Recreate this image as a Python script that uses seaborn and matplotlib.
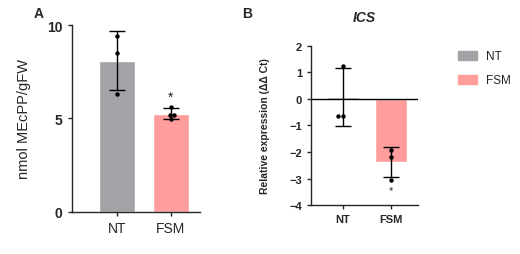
import numpy as np
import pandas as pd
import matplotlib
matplotlib.use('Agg')
import matplotlib.pyplot as plt
import seaborn as sns
from matplotlib.patches import Patch

groups = ['NT', 'FSM']
colors = ['#a2a2a7', '#ff9d9d']

# panel A: MEcPP
mecpp_mean = [8.1, 5.25]
mecpp_sd = [1.6, 0.3]
mecpp_pts_nt = [9.4, 8.5, 6.3]
mecpp_pts_fsm = [5.6, 5.2, 5.18, 4.95]

# panel B: ICS relative expression
ics_mean = [0.07, -2.38]
ics_sd = [1.1, 0.58]
ics_pts_nt = [1.25, -0.63, -0.63]
ics_pts_fsm = [-1.92, -2.18, -3.05]

sns.set_style('ticks')
plt.rcParams['font.family'] = ['Liberation Sans', 'DejaVu Sans']

fig = plt.figure(figsize=(5.2, 2.55), dpi=100)
axA = fig.add_axes([0.138, 0.165, 0.247, 0.733])
axB = fig.add_axes([0.598, 0.192, 0.206, 0.624])

def panel(ax, mean, sd, pts_nt, pts_fsm, width):
    sns.barplot(x=groups, y=mean, hue=groups, palette=colors, errorbar=None,
                width=width, saturation=1, legend=False, ax=ax)
    pts = pd.DataFrame({'g': ['NT'] * len(pts_nt) + ['FSM'] * len(pts_fsm),
                        'v': pts_nt + pts_fsm})
    sns.swarmplot(data=pts, x='g', y='v', order=groups, color='black', size=3.2, ax=ax)
    ax.errorbar(groups, mean, yerr=sd, fmt='none', ecolor='black', elinewidth=1,
                capsize=6, capthick=1)
    ax.set_xlabel('')
    sns.despine(ax=ax)
    ax.tick_params(length=3, width=1)
    for s in ['left', 'bottom']:
        ax.spines[s].set_linewidth(1)

panel(axA, mecpp_mean, mecpp_sd, mecpp_pts_nt, mecpp_pts_fsm, 0.68)
axA.set_ylim(0, 10)
axA.set_yticks([0, 5, 10])
axA.set_xlim(-0.85, 1.55)
axA.set_ylabel('nmol MEcPP/gFW', fontsize=10.5, labelpad=12)
for t in axA.get_yticklabels():
    t.set_fontweight('bold')
axA.tick_params(axis='y', labelsize=10)
axA.tick_params(axis='x', labelsize=10)
axA.text(1, mecpp_mean[1] + mecpp_sd[1] + 0.25, '*', ha='center', va='bottom', fontsize=10)

panel(axB, ics_mean, ics_sd, ics_pts_nt, ics_pts_fsm, 0.66)
axB.set_ylim(-4, 2)
axB.set_yticks(range(-4, 3))
axB.set_xlim(-0.65, 1.55)
axB.axhline(0, color='black', lw=1)
axB.set_ylabel('Relative expression (\u0394\u0394 Ct)', fontsize=7.5, fontweight='bold', labelpad=14)
axB.set_title('ICS', fontsize=10, fontweight='bold', style='italic', pad=18)
for t in axB.get_yticklabels() + axB.get_xticklabels():
    t.set_fontweight('bold')
axB.tick_params(labelsize=8)
axB.text(1, ics_mean[1] - ics_sd[1] - 0.3, '*', ha='center', va='top', fontsize=8)

fig.text(0.065, 0.93, 'A', fontsize=10, fontweight='bold')
fig.text(0.465, 0.93, 'B', fontsize=10, fontweight='bold')

handles = [Patch(color=c, label=g) for g, c in zip(groups, colors)]
fig.legend(handles=handles, loc='upper left', bbox_to_anchor=(0.86, 0.84), frameon=False,
           fontsize=8.5, handlelength=1.6, handleheight=0.8, labelspacing=1.0)

fig.savefig('out.png', dpi=100)
